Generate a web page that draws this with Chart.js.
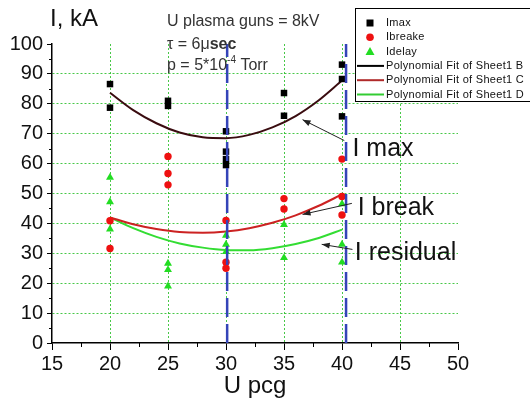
<!DOCTYPE html>
<html>
<head>
<meta charset="utf-8">
<script src="https://cdn.jsdelivr.net/npm/chart.js@4/dist/chart.umd.min.js"></script>
<style>
  html, body { margin: 0; padding: 0; background: #fff; }
  #wrap { width: 530px; height: 406px; }
</style>
</head>
<body>
<div id="wrap"><canvas id="chart" width="530" height="406"></canvas></div>
<script>
// measured points: U pcg (kV) vs current (kA)
const imaxX = [20, 20, 25, 25, 30, 30, 30, 30, 35, 35, 40, 40, 40];
const imaxY = [86.6, 78.7, 81, 79.3, 70.8, 64, 61.5, 59.5, 83.6, 76, 93.1, 88.3, 75.8];
const ibreakX = [20, 20, 25, 25, 25, 30, 30, 30, 35, 35, 40, 40, 40];
const ibreakY = [40.9, 31.6, 62.4, 56.7, 52.9, 41, 27, 25, 48.3, 44.8, 61.5, 49, 42.8];
const idelayX = [20, 20, 20, 25, 25, 25, 30, 30, 30, 35, 35, 40, 40, 40];
const idelayY = [55.4, 47.2, 38.1, 26.6, 24.5, 19, 36, 33, 30.5, 39.6, 28.5, 46.5, 33, 27];

// polynomial fit curves
const fitX = [20, 22, 24, 26, 28, 30, 32, 34, 36, 38, 40];
const fitB = [83.7, 77.9, 73.5, 70.4, 68.8, 68.5, 69.6, 72.1, 75.9, 81.2, 87.8];
const fitC = [42.0, 39.7, 38.1, 37.1, 36.9, 37.3, 38.4, 40.2, 42.7, 45.9, 49.7];
const fitD = [42.0, 38.4, 35.5, 33.3, 31.9, 31.1, 31.0, 31.7, 33.1, 35.1, 37.9];

// dashed blue markers
const markerX = [30.1, 40.35];
const markerY = [0, 100];

const FONT = "'Liberation Sans', Arial, sans-serif";

const pts = (xs, ys) => xs.map((x, i) => ({ x: x, y: ys[i] }));

// callouts (data coords)
const callouts = [
  { text: 'I max', x: 40.9, y: 65, fx: 40.2, fy: 67.7, tx: 36.6, ty: 74.7 },
  { text: 'I break', x: 41.35, y: 45, fx: 40.85, fy: 46.7, tx: 36.6, ty: 43 },
  { text: 'I residual', x: 41.1, y: 30, fx: 40.9, fy: 31.3, tx: 38.25, ty: 33 }
];

function arrow(ctx, x1, y1, x2, y2) {
  const a = Math.atan2(y2 - y1, x2 - x1);
  ctx.beginPath();
  ctx.moveTo(x1, y1);
  ctx.lineTo(x2, y2);
  ctx.stroke();
  ctx.beginPath();
  ctx.moveTo(x2, y2);
  ctx.lineTo(x2 - 8 * Math.cos(a) + 3 * Math.sin(a), y2 - 8 * Math.sin(a) - 3 * Math.cos(a));
  ctx.lineTo(x2 - 8 * Math.cos(a) - 3 * Math.sin(a), y2 - 8 * Math.sin(a) + 3 * Math.cos(a));
  ctx.closePath();
  ctx.fill();
}

function drawSymbol(ctx, ds, x, y) {
  ctx.fillStyle = ds.backgroundColor;
  ctx.beginPath();
  if (ds.pointStyle === 'rect') {
    ctx.rect(x - 3.5, y - 3.5, 7, 7);
  } else if (ds.pointStyle === 'circle') {
    ctx.arc(x, y, 3.8, 0, Math.PI * 2);
  } else {
    ctx.moveTo(x, y - 4.5);
    ctx.lineTo(x + 4.5, y + 3.5);
    ctx.lineTo(x - 4.5, y + 3.5);
    ctx.closePath();
  }
  ctx.fill();
}

const extras = {
  id: 'extras',
  beforeDatasetsDraw(chart) {
    const { ctx, scales: { x, y } } = chart;
    // minor ticks
    ctx.save();
    ctx.strokeStyle = '#000';
    ctx.lineWidth = 1;
    for (let v = 17.5; v < 50; v += 5) {
      const px = Math.round(x.getPixelForValue(v)) + 0.5;
      ctx.beginPath();
      ctx.moveTo(px, y.bottom);
      ctx.lineTo(px, y.bottom + 4);
      ctx.stroke();
    }
    for (let v = 5; v < 100; v += 10) {
      const py = Math.round(y.getPixelForValue(v)) + 0.5;
      ctx.beginPath();
      ctx.moveTo(x.left - 3, py);
      ctx.lineTo(x.left, py);
      ctx.stroke();
    }
    ctx.restore();
  },
  afterDraw(chart) {
    const { ctx, scales: { x, y } } = chart;
    ctx.save();

    // y axis title
    ctx.fillStyle = '#111';
    ctx.font = '24px ' + FONT;
    ctx.textBaseline = 'middle';
    ctx.textAlign = 'left';
    ctx.fillText('I, kA', 50, 19);

    // conditions text
    ctx.fillStyle = '#333';
    ctx.font = '16px ' + FONT;
    ctx.fillText('U plasma guns = 8kV', 167, 22);
    let t = '\u03c4 = 6\u03bc';
    ctx.fillText(t, 167, 45);
    let w = ctx.measureText(t).width;
    ctx.font = 'bold 16px ' + FONT;
    ctx.fillText('sec', 167 + w, 45);
    ctx.font = '16px ' + FONT;
    t = 'p = 5*10';
    ctx.fillText(t, 167, 66);
    w = ctx.measureText(t).width;
    ctx.font = '10px ' + FONT;
    ctx.fillText('-4', 167 + w, 60);
    const w2 = ctx.measureText('-4').width;
    ctx.font = '16px ' + FONT;
    ctx.fillText(' Torr', 167 + w + w2, 66);

    // callouts
    ctx.strokeStyle = '#222';
    ctx.fillStyle = '#222';
    ctx.lineWidth = 1;
    callouts.forEach(c => {
      arrow(ctx, x.getPixelForValue(c.fx), y.getPixelForValue(c.fy),
        x.getPixelForValue(c.tx), y.getPixelForValue(c.ty));
    });
    ctx.fillStyle = '#111';
    ctx.font = '25px ' + FONT;
    callouts.forEach(c => {
      ctx.fillText(c.text, x.getPixelForValue(c.x), y.getPixelForValue(c.y));
    });

    // legend box
    ctx.fillStyle = '#fff';
    ctx.strokeStyle = '#000';
    ctx.lineWidth = 1;
    ctx.fillRect(355.5, 8.5, 190, 93);
    ctx.strokeRect(355.5, 8.5, 190, 93);
    ctx.font = '11px ' + FONT;
    ctx.letterSpacing = '0.3px';
    let row = 0;
    chart.data.datasets.forEach(ds => {
      if (!ds.inLegend) return;
      const ry = 23 + row * 14.3;
      if (ds.showLine) {
        ctx.strokeStyle = ds.legendColor || ds.borderColor;
        ctx.lineWidth = 2;
        ctx.beginPath();
        ctx.moveTo(357, ry);
        ctx.lineTo(384, ry);
        ctx.stroke();
      } else {
        drawSymbol(ctx, ds, 370, ry);
      }
      ctx.fillStyle = '#111';
      ctx.fillText(ds.label, 386, ry);
      row++;
    });
    ctx.restore();
  }
};

const markerSet = mx => ({
  label: 'marker',
  data: markerY.map(v => ({ x: mx, y: v })),
  showLine: true,
  borderColor: '#3444b8',
  borderWidth: 2.5,
  borderDash: [19, 7],
  pointRadius: 0
});

const fitSet = (label, ys, color, legendColor) => ({
  label: label,
  inLegend: true,
  data: pts(fitX, ys),
  showLine: true,
  borderColor: color,
  legendColor: legendColor,
  borderWidth: 2,
  pointRadius: 0,
  cubicInterpolationMode: 'monotone'
});

new Chart(document.getElementById('chart'), {
  type: 'scatter',
  data: {
    datasets: [
      markerSet(markerX[0]),
      markerSet(markerX[1]),
      { label: 'Imax', inLegend: true, data: pts(imaxX, imaxY), pointStyle: 'rect', pointRadius: 4.6,
        backgroundColor: '#000', borderColor: '#000', borderWidth: 0 },
      { label: 'Ibreake', inLegend: true, data: pts(ibreakX, ibreakY), pointStyle: 'circle', pointRadius: 3.7,
        backgroundColor: '#ee1111', borderColor: '#ee1111', borderWidth: 0 },
      { label: 'Idelay', inLegend: true, data: pts(idelayX, idelayY), pointStyle: 'triangle', pointRadius: 4.6,
        backgroundColor: '#22dd22', borderColor: '#22dd22', borderWidth: 0 },
      fitSet('Polynomial Fit of Sheet1 B', fitB, '#3a0c10', '#000'),
      fitSet('Polynomial Fit of Sheet1 C', fitC, '#cc2222', '#b02a2a'),
      fitSet('Polynomial Fit of Sheet1 D', fitD, '#33dd33', '#33cc33')
    ]
  },
  options: {
    responsive: false,
    animation: false,
    devicePixelRatio: 1,
    layout: { padding: { top: 44, right: 72, left: 0, bottom: 0 } },
    plugins: { legend: { display: false }, tooltip: { enabled: false } },
    scales: {
      x: {
        type: 'linear',
        min: 15,
        max: 50,
        afterFit: s => { s.height = 63; },
        ticks: { stepSize: 5, color: '#111', font: { family: FONT, size: 20 }, padding: 2, maxRotation: 0 },
        grid: {
          color: c => (c.tick && (c.tick.value === 15 || c.tick.value === 50)) ? 'rgba(0,0,0,0)' : 'rgba(40,190,40,0.85)',
          lineWidth: 1,
          tickColor: '#000',
          tickLength: 7,
          tickWidth: 1,
          tickBorderDash: []
        },
        border: { color: '#000', width: 1.5, dash: [2, 2] },
        title: { display: true, text: 'U pcg', color: '#111', font: { family: FONT, size: 24 }, padding: { top: 0, bottom: 5 } }
      },
      y: {
        type: 'linear',
        min: 0,
        max: 100,
        afterFit: s => { s.width = 52; },
        ticks: { stepSize: 10, color: '#111', font: { family: FONT, size: 20 }, padding: 4 },
        grid: {
          color: c => (c.tick && (c.tick.value === 0 || c.tick.value === 100)) ? 'rgba(0,0,0,0)' : 'rgba(40,190,40,0.85)',
          lineWidth: 1,
          tickColor: '#000',
          tickLength: 5,
          tickWidth: 1,
          tickBorderDash: []
        },
        border: { color: '#000', width: 1.5, dash: [2, 2] }
      }
    }
  },
  plugins: [extras]
});
</script>
</body>
</html>
